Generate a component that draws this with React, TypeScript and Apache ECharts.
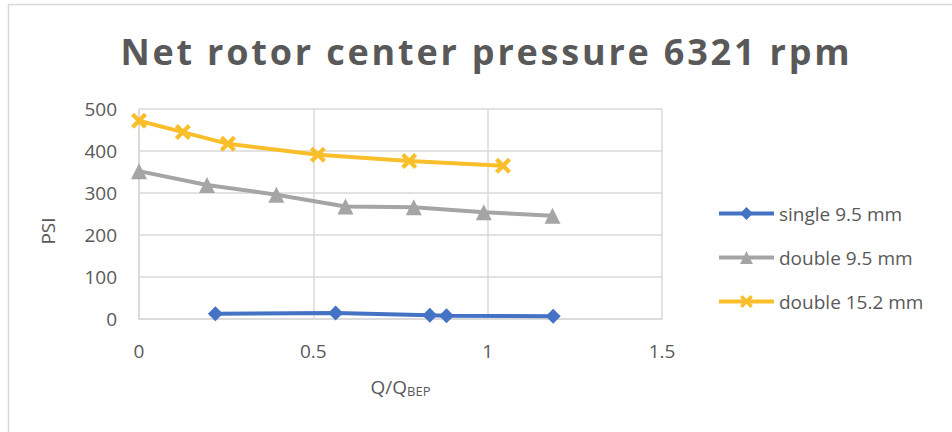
import React, { useEffect, useRef } from "react";
import * as echarts from "echarts";

// Flow ratio Q/Q_BEP and net rotor center pressure (PSI) per seal configuration
const singleX = [0.219, 0.564, 0.834, 0.882, 1.188];
const singleY = [12.7, 14.3, 8.7, 8.0, 6.3];

const double95X = [0, 0.195, 0.394, 0.592, 0.788, 0.989, 1.186];
const double95Y = [352, 319, 296, 268, 266, 254, 246];

const double152X = [0, 0.126, 0.255, 0.513, 0.775, 1.044];
const double152Y = [472, 445, 417, 391, 376, 365];

const seriesNames = ["single 9.5 mm", "double 9.5 mm", "double 15.2 mm"];
const seriesColors = ["#4472C4", "#A5A5A5", "#F9BF2B"];

const TITLE = "Net rotor center pressure 6321 rpm";
const FONT = "'Open Sans', 'Noto Sans', sans-serif";
const TEXT = "#595959";
const GRID = "#D9D9D9";

// X-shaped marker drawn as a filled outline
const crossSymbol =
  "path://M0,3 L3,0 L8,5 L13,0 L16,3 L11,8 L16,13 L13,16 L8,11 L3,16 L0,13 L5,8 Z";

const pairs = (xs: number[], ys: number[]) => xs.map((x, i) => [x, ys[i]]);

export default function App() {
  const ref = useRef<HTMLDivElement>(null);

  useEffect(() => {
    if (!ref.current) return;
    const chart = echarts.init(ref.current, undefined, { renderer: "svg" });

    const lineSeries = (
      name: string,
      color: string,
      data: number[][],
      symbol: string,
      symbolSize: number
    ) => ({
      name,
      type: "line",
      data,
      symbol,
      symbolSize,
      showSymbol: true,
      lineStyle: { color, width: 4 },
      itemStyle: { color, borderWidth: 0 },
      emphasis: { disabled: true },
    });

    chart.setOption({
      animation: false,
      textStyle: { fontFamily: FONT, color: TEXT },
      title: {
        text: TITLE,
        left: 480,
        top: 28,
        textAlign: "center",
        textStyle: {
          fontFamily: FONT,
          fontSize: 36,
          fontWeight: "bold",
          color: TEXT,
        },
      },
      grid: { left: 139, right: 290, top: 109, bottom: 113 },
      xAxis: {
        type: "value",
        min: 0,
        max: 1.5,
        interval: 0.5,
        name: "Q/Q{sub|BEP}",
        nameLocation: "middle",
        nameGap: 57,
        nameTextStyle: {
          fontFamily: FONT,
          fontSize: 19,
          color: TEXT,
          rich: {
            sub: {
              fontFamily: FONT,
              fontSize: 13,
              color: TEXT,
              verticalAlign: "bottom",
              padding: [8, 0, 0, 0],
            },
          },
        },
        axisLine: { show: true, lineStyle: { color: GRID, width: 1.5 } },
        axisTick: { show: false },
        axisLabel: { fontFamily: FONT, fontSize: 19, color: TEXT, margin: 22 },
        splitLine: { show: true, lineStyle: { color: GRID, width: 1.5 } },
      },
      yAxis: {
        type: "value",
        min: 0,
        max: 500,
        interval: 100,
        name: "PSI",
        nameLocation: "middle",
        nameGap: 82,
        nameTextStyle: {
          fontFamily: FONT,
          fontSize: 19,
          color: TEXT,
          padding: [0, 34, 0, 0],
        },
        axisLine: { show: true, lineStyle: { color: GRID, width: 1.5 } },
        axisTick: { show: false },
        axisLabel: { fontFamily: FONT, fontSize: 19, color: TEXT, margin: 22 },
        splitLine: { show: true, lineStyle: { color: GRID, width: 1.5 } },
      },
      legend: {
        orient: "vertical",
        left: 717,
        top: 204,
        padding: 0,
        itemWidth: 55,
        itemHeight: 16,
        itemGap: 25,
        lineStyle: { width: 4 },
        textStyle: { fontFamily: FONT, fontSize: 19, color: TEXT },
        data: seriesNames,
      },
      graphic: [
        {
          type: "rect",
          silent: true,
          shape: { x: 8.5, y: 4.5, width: 1000, height: 500 },
          style: { fill: "none", stroke: GRID, lineWidth: 1.5 },
        },
      ],
      series: [
        lineSeries(seriesNames[0], seriesColors[0], pairs(singleX, singleY), "diamond", 15),
        lineSeries(seriesNames[1], seriesColors[1], pairs(double95X, double95Y), "triangle", 16),
        lineSeries(seriesNames[2], seriesColors[2], pairs(double152X, double152Y), crossSymbol, 16),
      ],
    });

    // the title is set with open letter spacing
    ref.current.querySelectorAll("text").forEach((t) => {
      if (t.textContent === TITLE) {
        t.setAttribute("letter-spacing", "2.8");
        t.setAttribute("dx", "1.4");
      }
    });

    return () => chart.dispose();
  }, []);

  return (
    <div
      ref={ref}
      style={{ position: "fixed", left: 0, top: 0, width: 952, height: 432, background: "#fff" }}
    />
  );
}
